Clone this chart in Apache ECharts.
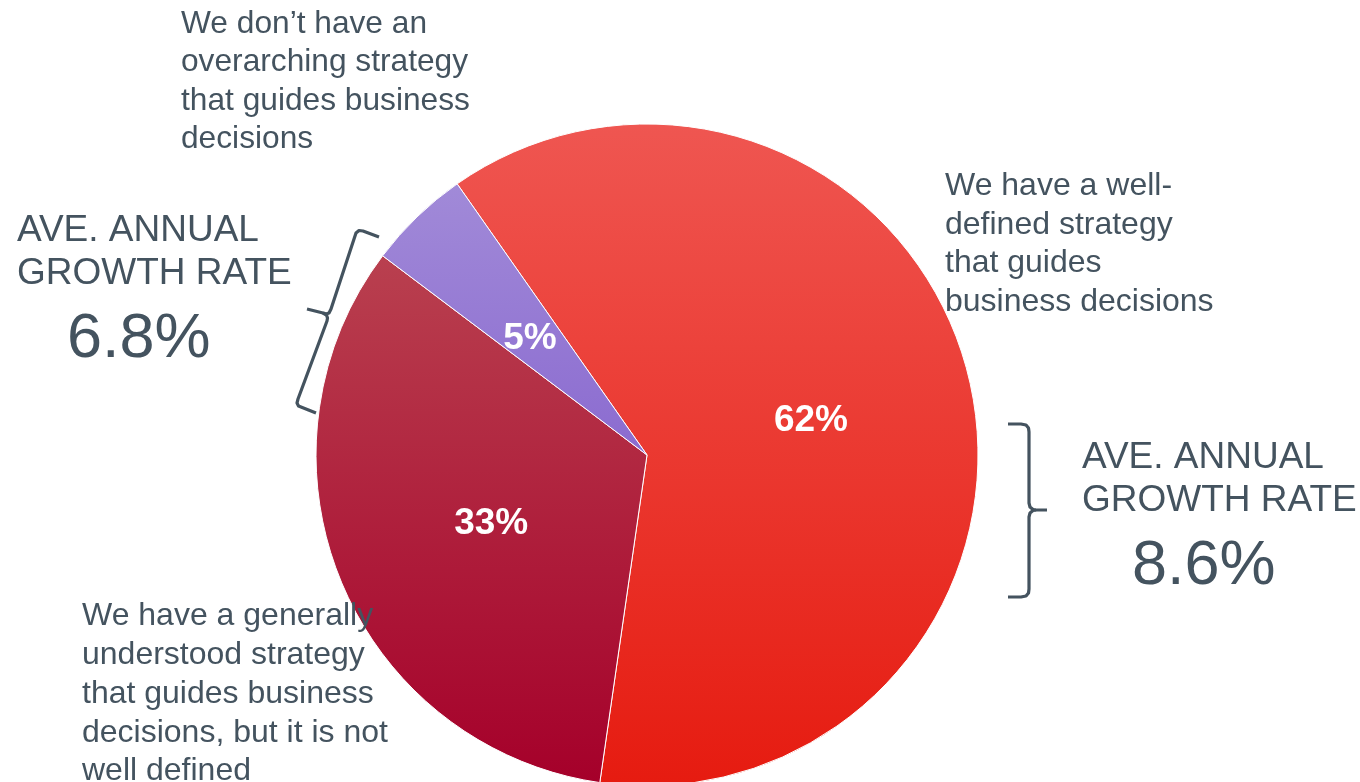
<!DOCTYPE html>
<html>
<head>
<meta charset="utf-8">
<script src="https://cdn.jsdelivr.net/npm/echarts@6/dist/echarts.min.js"></script>
<style>
  html, body { margin: 0; padding: 0; background: #ffffff; }
  #chart { width: 1360px; height: 782px; }
</style>
</head>
<body>
<div id="chart"></div>
<script>
// Strategy categories and their share of respondents (%)
const categories = [
  'We have a well-defined strategy that guides business decisions',
  'We have a generally understood strategy that guides business decisions, but it is not well defined',
  'We don\u2019t have an overarching strategy that guides business decisions'
];
const shares = [62, 33, 5];

// Slice fills: top and bottom colours of each vertical gradient
const sliceTop = ['#ef5651', '#b9404f', '#a18ad8'];
const sliceBottom = ['#e61b10', '#a5002a', '#8b6bd0'];

// Average annual growth rates shown next to the brackets
const growthLabel = ['AVE. ANNUAL', 'GROWTH RATE'];
const growthRates = ['6.8%', '8.6%'];

// Wrapped description lines for each slice
const wellDefinedLines = ['We have a well-', 'defined strategy', 'that guides', 'business decisions'];
const generalLines = ['We have a generally', 'understood strategy', 'that guides business', 'decisions, but it is not', 'well defined'];
const noStrategyLines = ['We don\u2019t have an', 'overarching strategy', 'that guides business', 'decisions'];

const textColor = '#44535f';
const font = '"Liberation Sans", Arial, sans-serif';

function textBlock(lines, x, y, size, lh) {
  return {
    type: 'text',
    x: x,
    y: y,
    z: 10,
    style: {
      text: lines.join('\n'),
      fill: textColor,
      font: size + 'px ' + font,
      lineHeight: lh,
      textVerticalAlign: 'top'
    }
  };
}

function bracket(points) {
  return {
    type: 'polyline',
    z: 10,
    shape: { points: points },
    style: { fill: null, stroke: textColor, lineWidth: 3.2, lineJoin: 'round' }
  };
}

const chart = echarts.init(document.getElementById('chart'), null, { renderer: 'canvas' });

chart.setOption({
  backgroundColor: '#ffffff',
  animation: false,
  series: [{
    type: 'pie',
    center: [647, 455],
    radius: 331,
    startAngle: 125,
    clockwise: true,
    silent: true,
    label: {
      show: true,
      position: 'inside',
      formatter: '{c}%',
      color: '#ffffff',
      fontFamily: font,
      fontWeight: 'bold',
      fontSize: 37,
      offset: [0, 5]
    },
    labelLine: { show: false },
    itemStyle: { borderColor: '#ffffff', borderWidth: 1 },
    data: shares.map((v, i) => ({
      name: categories[i],
      value: v,
      itemStyle: {
        color: new echarts.graphic.LinearGradient(0, 0, 0, 1, [
          { offset: 0, color: sliceTop[i] },
          { offset: 1, color: sliceBottom[i] }
        ])
      }
    }))
  }],
  graphic: [
    textBlock(noStrategyLines, 181, 5, 31.7, 38.5),
    textBlock(wellDefinedLines, 945, 167, 32, 38.5),
    textBlock(generalLines, 82, 597, 32, 38.8),
    textBlock(growthLabel, 17, 209, 37, 43),
    textBlock([growthRates[0]], 67, 305, 63, 70),
    textBlock(growthLabel, 1082, 436, 37, 43),
    textBlock([growthRates[1]], 1132, 532, 63, 70),
    // bracket beside the two smaller slices
    bracket([[379,237],[363,231],[359,230.5],[356,233],[355,236],[331,309],[329,313],[326,314],[323,313],[307,309]]),
    bracket([[323,313],[326.5,315],[327.5,318],[327,321],[298,399],[297,403],[298.5,406],[301,407],[316,413]]),
    // bracket beside the largest slice
    bracket([[1008,424],[1021,424],[1026,425],[1028.5,428],[1029,432],[1029,503],[1030,507],[1033,509.5],[1036,510],[1047,510]]),
    bracket([[1036,510],[1033,510.5],[1030,513],[1029,517],[1029,589],[1028.5,593],[1026,596],[1021,597],[1008,597]])
  ]
});
</script>
</body>
</html>
